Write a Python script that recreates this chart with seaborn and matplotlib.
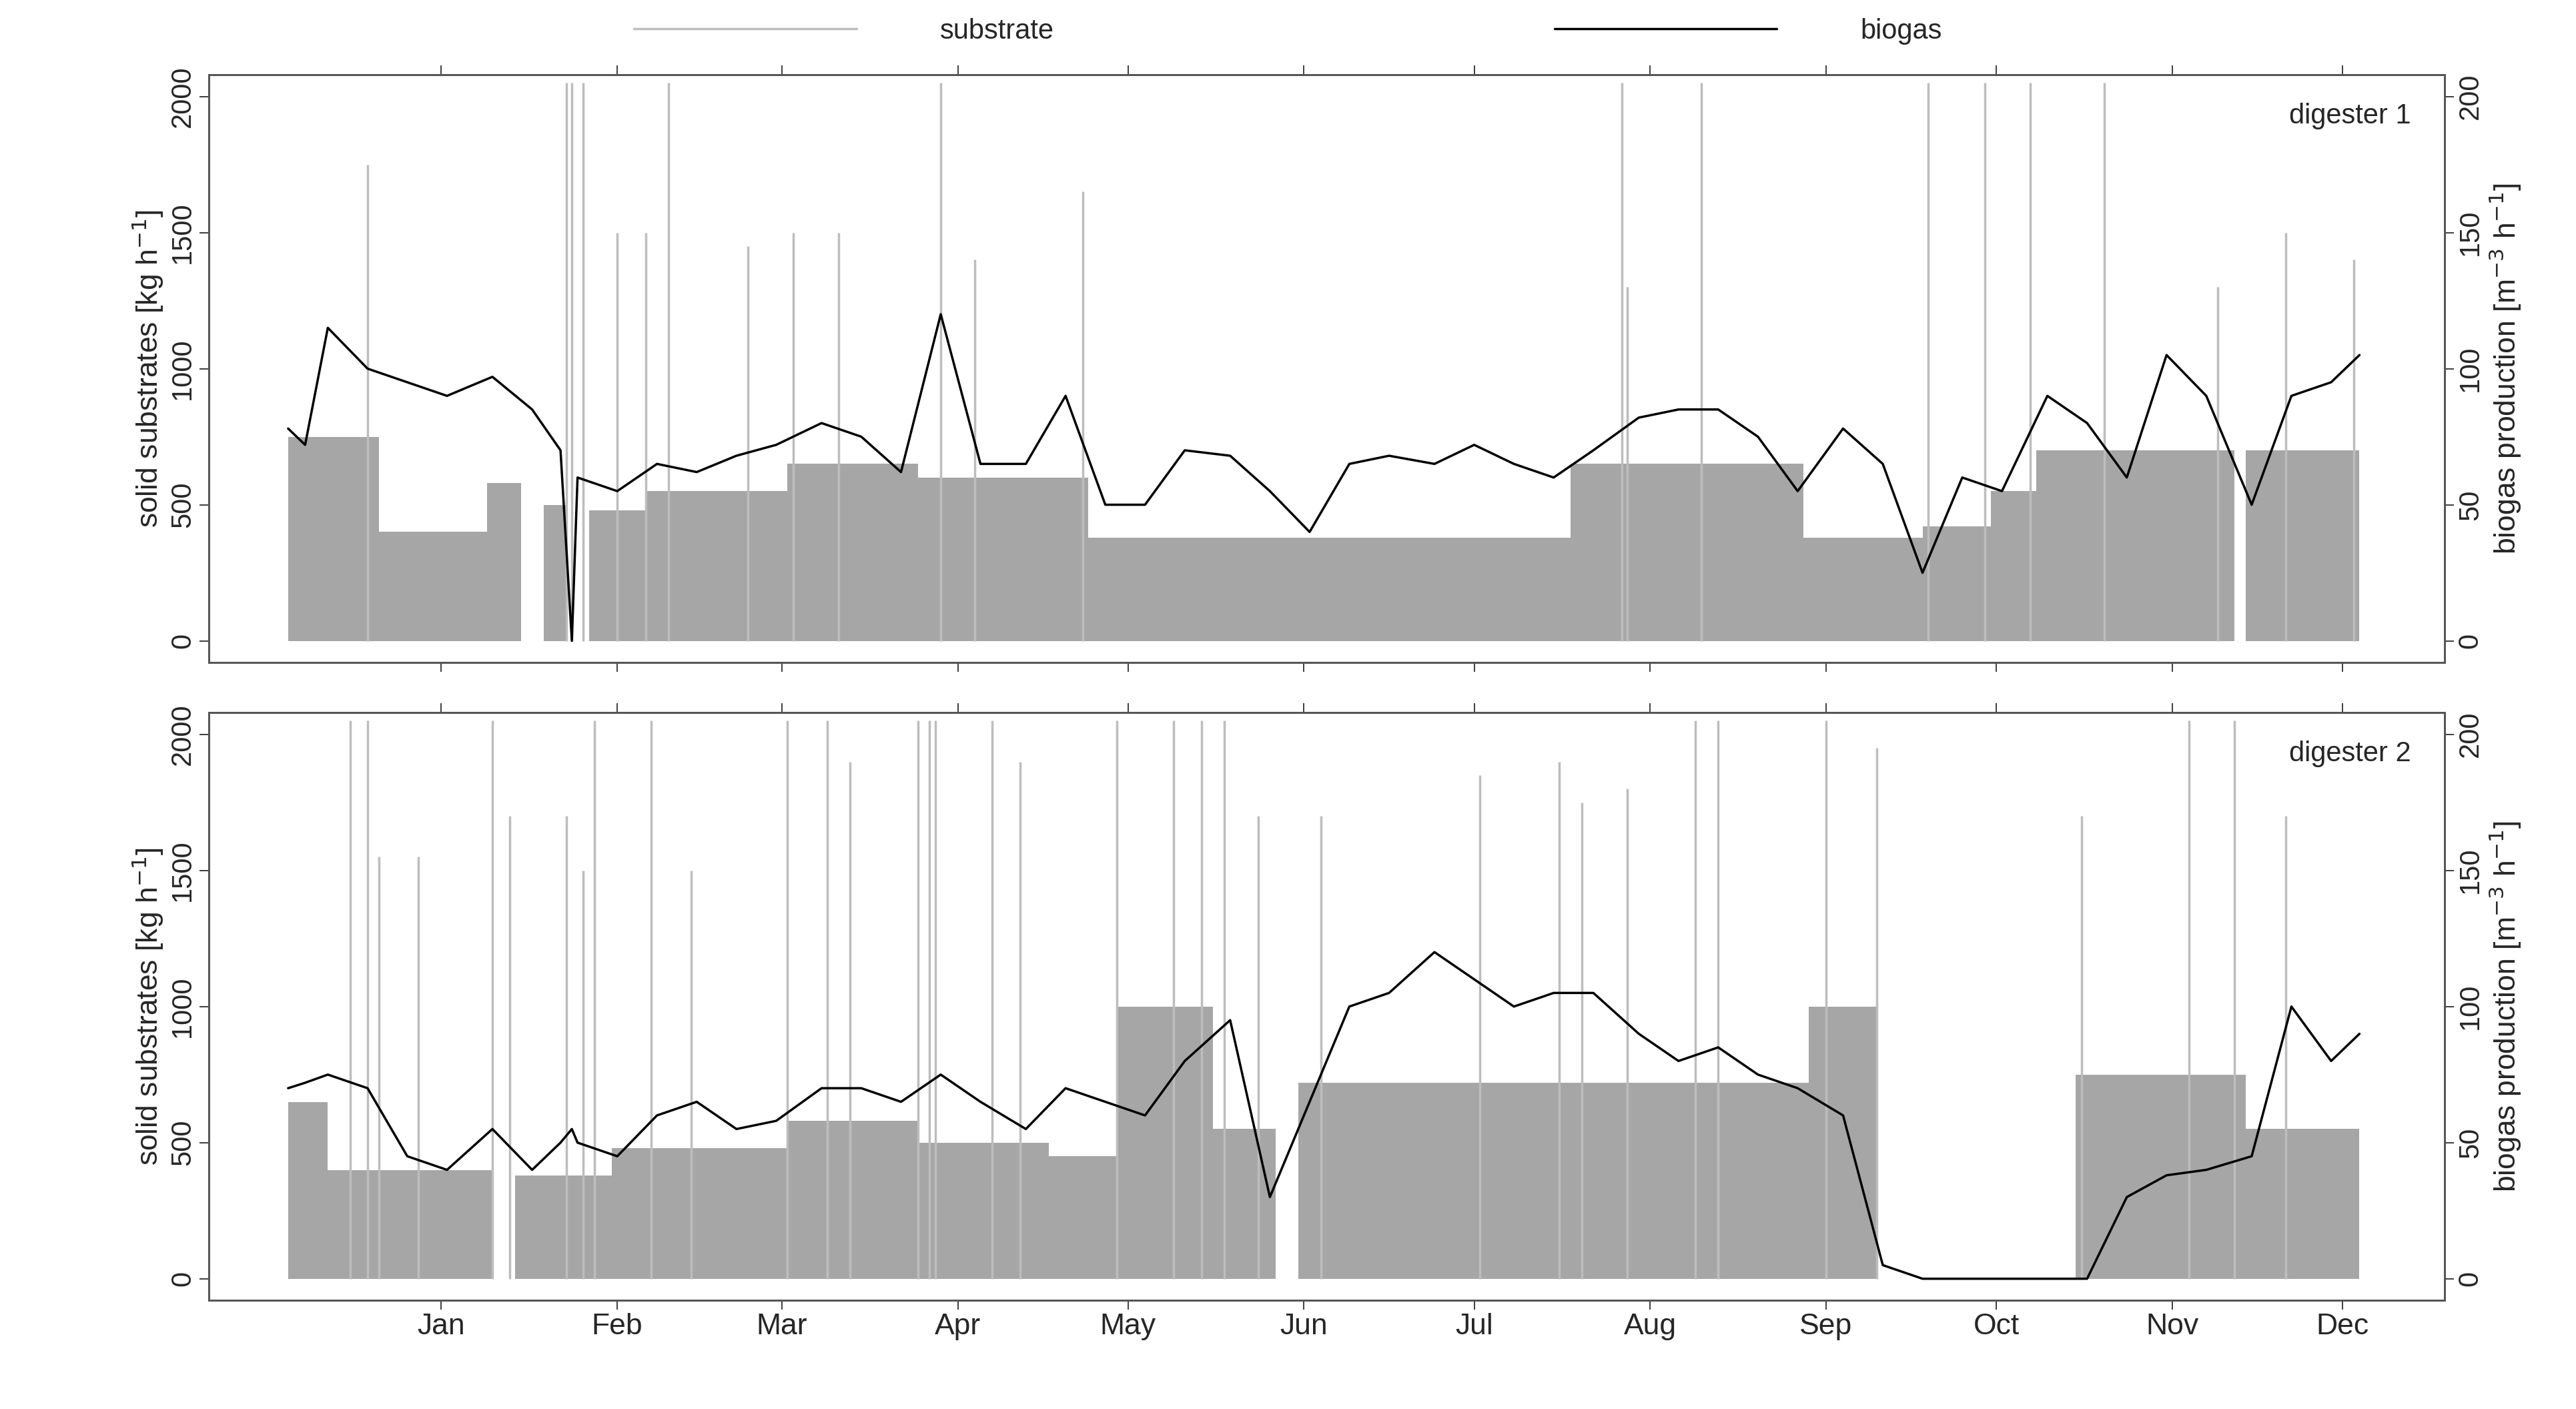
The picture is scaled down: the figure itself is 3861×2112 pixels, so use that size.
import seaborn as sns
import matplotlib.pyplot as plt
import matplotlib.dates as mdates
import numpy as np
import pandas as pd

start = pd.Timestamp("2011-12-05")

# substrate feed plateaus: (start day, end day, kg/h)
sub1_seg = [(0, 16, 750), (16, 35, 400), (35, 41, 580), (41, 45, 0), (45, 49, 500),
            (49, 53, 0), (53, 63, 480), (63, 88, 550), (88, 111, 650), (111, 141, 600),
            (141, 226, 380), (226, 267, 650), (267, 288, 380), (288, 300, 420),
            (300, 308, 550), (308, 343, 700), (343, 345, 0), (345, 365, 700)]
sub2_seg = [(0, 7, 650), (7, 36, 400), (36, 40, 0), (40, 57, 380), (57, 88, 480),
            (88, 111, 580), (111, 134, 500), (134, 146, 450), (146, 163, 1000),
            (163, 174, 550), (174, 178, 0), (178, 268, 720), (268, 280, 1000),
            (280, 315, 0), (315, 345, 750), (345, 365, 550)]

# substrate spikes: day and height (kg/h)
spk1_day = [14, 49, 50, 52, 58, 63, 67, 81, 89, 97, 115, 121, 140, 235, 236, 249, 289,
            299, 307, 320, 340, 352, 364]
spk1_val = [1750, 2050, 2050, 2050, 1500, 1500, 2050, 1450, 1500, 1500, 2050, 1400, 1650,
            2050, 1300, 2050, 2050, 2050, 2050, 2050, 1300, 1500, 1400]
spk2_day = [11, 14, 16, 23, 36, 39, 49, 52, 54, 64, 71, 88, 95, 99, 111, 113, 114, 124,
            129, 146, 156, 161, 165, 171, 182, 210, 224, 228, 236, 248, 252, 271, 280,
            316, 335, 343, 352]
spk2_val = [2050, 2050, 1550, 1550, 2050, 1700, 1700, 1500, 2050, 2050, 1500, 2050, 2050,
            1900, 2050, 2050, 2050, 2050, 1900, 2050, 2050, 2050, 2050, 1700, 1700, 1850,
            1900, 1750, 1800, 2050, 2050, 2050, 1950, 1700, 2050, 2050, 1700]

# biogas (m3/h), roughly weekly readings
gas_day = [0, 3, 7, 14, 21, 28, 36, 43, 48, 50, 51, 58, 65, 72, 79, 86, 94, 101, 108, 115,
           122, 130, 137, 144, 151, 158, 166, 173, 180, 187, 194, 202, 209, 216, 223, 230,
           238, 245, 252, 259, 266, 274, 281, 288, 295, 302, 310, 317, 324, 331, 338, 346,
           353, 360, 365]
gas1 = [78, 72, 115, 100, 95, 90, 97, 85, 70, 0, 60, 55, 65, 62, 68, 72, 80, 75, 62, 120,
        65, 65, 90, 50, 50, 70, 68, 55, 40, 65, 68, 65, 72, 65, 60, 70, 82, 85, 85, 75, 55,
        78, 65, 25, 60, 55, 90, 80, 60, 105, 90, 50, 90, 95, 105]
gas2 = [70, 72, 75, 70, 45, 40, 55, 40, 50, 55, 50, 45, 60, 65, 55, 58, 70, 70, 65, 75,
        65, 55, 70, 65, 60, 80, 95, 30, 65, 100, 105, 120, 110, 100, 105, 105, 90, 80, 85,
        75, 70, 60, 5, 0, 0, 0, 0, 0, 30, 38, 40, 45, 100, 80, 90]


def seg_series(segs):
    d, v = [], []
    for a, b, lev in segs:
        d += [a, b]
        v += [lev, lev]
    return d, v


sns.set_theme(style="ticks")
plt.rcParams['font.family'] = ['Liberation Sans', 'DejaVu Sans']
plt.rcParams['font.size'] = 30

fig, axes = plt.subplots(2, 1, figsize=(38.61, 21.12), dpi=100, sharex=True)
fig.subplots_adjust(left=0.081, right=0.949, top=0.947, bottom=0.077, hspace=0.085)

panels = [(sub1_seg, spk1_day, spk1_val, gas1, "digester 1"),
          (sub2_seg, spk2_day, spk2_val, gas2, "digester 2")]
for ax, (segs, sd, sv, gas, name) in zip(axes, panels):
    d, v = seg_series(segs)
    dates = start + pd.to_timedelta(d, unit="D")
    ax.fill_between(dates, 0, v, color="#a6a6a6", lw=0)
    sdates = start + pd.to_timedelta(sd, unit="D")
    ax.vlines(sdates, 0, sv, color="#bdbdbd", lw=2.5)
    ax.set_ylim(-80, 2080)
    ax.set_yticks([0, 500, 1000, 1500, 2000])
    ax.tick_params(axis="y", labelrotation=90, labelsize=30, length=10)
    ax.tick_params(axis="x", top=True, labelsize=32, length=10)
    for lab in ax.get_yticklabels():
        lab.set_va("center")
    ax.set_ylabel("solid substrates [kg h$^{-1}$]", fontsize=32)
    ax.text(0.985, 0.93, name, transform=ax.transAxes, ha="right", va="center", fontsize=30)

    ax2 = ax.twinx()
    gdates = start + pd.to_timedelta(gas_day, unit="D")
    sns.lineplot(x=gdates, y=gas, ax=ax2, color="black", lw=2.5)
    ax2.set_ylim(-8, 208)
    ax2.set_yticks([0, 50, 100, 150, 200])
    ax2.tick_params(axis="y", labelrotation=90, labelsize=30, length=10)
    for lab in ax2.get_yticklabels():
        lab.set_va("center")
    ax2.set_ylabel("biogas production [m$^{-3}$ h$^{-1}$]", fontsize=32)
    for a in (ax, ax2):
        for s in a.spines.values():
            s.set_linewidth(2)
            s.set_color("#555555")

axes[1].set_xlim(pd.Timestamp("2011-11-21"), pd.Timestamp("2012-12-19"))
axes[1].xaxis.set_major_locator(mdates.MonthLocator())
axes[1].xaxis.set_major_formatter(mdates.DateFormatter("%b"))
ticks = pd.date_range("2012-01-01", "2012-12-01", freq="MS")
axes[1].set_xticks(ticks)
axes[1].set_xticklabels([t.strftime("%b") for t in ticks])

h1, = axes[0].plot([], [], color="#bdbdbd", lw=2.5, label="substrate")
h2, = axes[0].plot([], [], color="black", lw=2.5, label="biogas")
fig.legend(handles=[h1, h2], loc="upper center", ncol=2, frameon=False,
           bbox_to_anchor=(0.5, 1.005), fontsize=30, handlelength=8,
           columnspacing=18, handletextpad=3)

fig.savefig("out.png", dpi=100)
